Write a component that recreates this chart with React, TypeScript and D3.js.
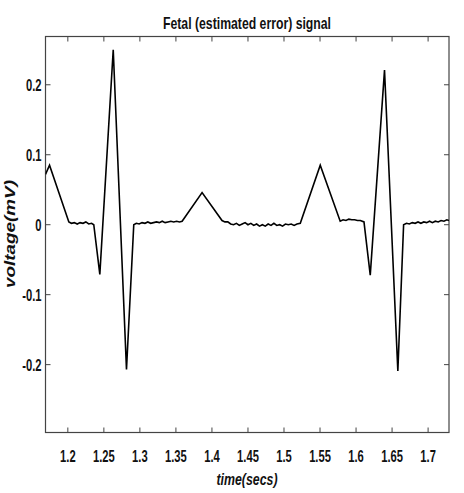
import React from "react";
import * as d3 from "d3";

const W = 464;
const H = 493;

const title = "Fetal (estimated error) signal";
const xLabel = "time(secs)";
const yLabel = "voltage(mV)";

const xTicks = [1.2, 1.25, 1.3, 1.35, 1.4, 1.45, 1.5, 1.55, 1.6, 1.65, 1.7];
const xTickLabels = ["1.2", "1.25", "1.3", "1.35", "1.4", "1.45", "1.5", "1.55", "1.6", "1.65", "1.7"];
const yTicks = [-0.2, -0.1, 0, 0.1, 0.2];
const yTickLabels = ["-0.2", "-0.1", "0", "0.1", "0.2"];

const xDomain = [1.169, 1.729];
const yDomain = [-0.297, 0.269];

// time (s) samples of the estimated fetal signal
const timeSecs = [
  1.169, 1.1746, 1.2014,
  1.205, 1.209, 1.213, 1.217, 1.221, 1.225, 1.229, 1.233, 1.236,
  1.2444, 1.263, 1.2814, 1.2915,
  1.295, 1.299, 1.303, 1.307, 1.311, 1.315, 1.319, 1.323, 1.327, 1.331, 1.335, 1.339, 1.343, 1.347, 1.351, 1.355, 1.3586,
  1.3863, 1.414,
  1.418, 1.422, 1.426, 1.43, 1.434, 1.438, 1.442, 1.446, 1.45, 1.454, 1.458, 1.462, 1.466, 1.47, 1.474, 1.478, 1.482, 1.486, 1.49, 1.494, 1.498, 1.502, 1.506, 1.51, 1.514, 1.518, 1.5226,
  1.5503, 1.578,
  1.582, 1.586, 1.59, 1.594, 1.598, 1.602, 1.606, 1.611,
  1.6197, 1.6395, 1.658, 1.666,
  1.67, 1.674, 1.678, 1.682, 1.686, 1.69, 1.694, 1.698, 1.702, 1.706, 1.71, 1.714, 1.718, 1.722, 1.726, 1.729,
];

// voltage (mV) at each sample
const voltage = [
  0.072, 0.085, 0.004,
  0.002, 0.003, 0.001, 0.003, 0.002, 0.004, 0.001, 0.002, 0.0,
  -0.071, 0.25, -0.207, 0.0,
  0.002, 0.001, 0.003, 0.002, 0.004, 0.002, 0.003, 0.004, 0.003, 0.005, 0.003, 0.004, 0.005, 0.004, 0.005, 0.004, 0.005,
  0.046, 0.006,
  0.004, 0.004, 0.001, 0.0, 0.002, -0.001, 0.001, 0.003, 0.0, 0.002, -0.001, 0.001, -0.002, 0.0, -0.002, 0.001, -0.001, 0.002, -0.001, 0.0, -0.002, 0.001, 0.0, 0.001, -0.001, 0.001, 0.002,
  0.085, 0.005,
  0.007, 0.006, 0.008, 0.007, 0.007, 0.006, 0.006, 0.004,
  -0.072, 0.221, -0.209, 0.0,
  0.002, 0.001, 0.003, 0.002, 0.004, 0.002, 0.004, 0.003, 0.005, 0.003, 0.005, 0.004, 0.006, 0.005, 0.007, 0.006,
];

const L = 45.5, R = 449, T = 36.5, B = 432.5;
const FONT = "'Liberation Sans', Arial, sans-serif";
const AXIS = "#444";

export default function App() {
  React.useEffect(() => {
    document.body.style.margin = "0";
  }, []);

  const x = d3.scaleLinear().domain(xDomain).range([L, R]);
  const y = d3.scaleLinear().domain(yDomain).range([B, T]);
  const pts: [number, number][] = timeSecs.map((t, i) => [t, voltage[i]]);
  const line = d3
    .line<[number, number]>()
    .x((d) => x(d[0]))
    .y((d) => y(d[1]));
  const tk = 5;

  return (
    <svg width={W} height={H} style={{ display: "block", background: "#fff" }}>
      <defs>
        <clipPath id="plotclip">
          <rect x={L} y={T} width={R - L} height={B - T} />
        </clipPath>
      </defs>
      <rect x={0} y={0} width={W} height={H} fill="#fff" />
      {xTicks.map((t) => (
        <g key={"xt" + t}>
          <line x1={x(t)} x2={x(t)} y1={B} y2={B - tk} stroke={AXIS} strokeWidth={1} />
          <line x1={x(t)} x2={x(t)} y1={T} y2={T + tk} stroke={AXIS} strokeWidth={1} />
        </g>
      ))}
      {yTicks.map((v) => (
        <g key={"yt" + v}>
          <line x1={L} x2={L + tk} y1={y(v)} y2={y(v)} stroke={AXIS} strokeWidth={1} />
          <line x1={R} x2={R - tk} y1={y(v)} y2={y(v)} stroke={AXIS} strokeWidth={1} />
        </g>
      ))}
      <rect x={L} y={T} width={R - L} height={B - T} fill="none" stroke={AXIS} strokeWidth={1.2} />
      <path
        d={line(pts) || ""}
        fill="none"
        stroke="#000"
        strokeWidth={1.6}
        strokeLinejoin="miter"
        clipPath="url(#plotclip)"
      />
      {xTicks.map((t, i) => (
        <text
          key={"xl" + t}
          transform={`translate(${x(t)},${461.5}) scale(0.7,1)`}
          textAnchor="middle"
          fontFamily={FONT}
          fontWeight="bold"
          fontSize={16}
          fill="#111"
        >
          {xTickLabels[i]}
        </text>
      ))}
      {yTicks.map((v, i) => (
        <text
          key={"yl" + v}
          transform={`translate(${41.5},${y(v) + 6}) scale(0.7,1)`}
          textAnchor="end"
          fontFamily={FONT}
          fontWeight="bold"
          fontSize={16}
          fill="#111"
        >
          {yTickLabels[i]}
        </text>
      ))}
      <text
        x={247}
        y={28.5}
        textAnchor="middle"
        fontFamily={FONT}
        fontWeight="bold"
        fontSize={17}
        textLength={168}
        lengthAdjust="spacingAndGlyphs"
        fill="#111"
      >
        {title}
      </text>
      <text
        x={247}
        y={484.5}
        textAnchor="middle"
        fontFamily={FONT}
        fontWeight="bold"
        fontStyle="italic"
        fontSize={16}
        textLength={61}
        lengthAdjust="spacingAndGlyphs"
        fill="#111"
      >
        {xLabel}
      </text>
      <text
        transform={`translate(14.5,234) rotate(-90)`}
        textAnchor="middle"
        fontFamily={FONT}
        fontWeight="bold"
        fontStyle="italic"
        fontSize={15}
        textLength={108}
        lengthAdjust="spacingAndGlyphs"
        fill="#111"
      >
        {yLabel}
      </text>
    </svg>
  );
}
